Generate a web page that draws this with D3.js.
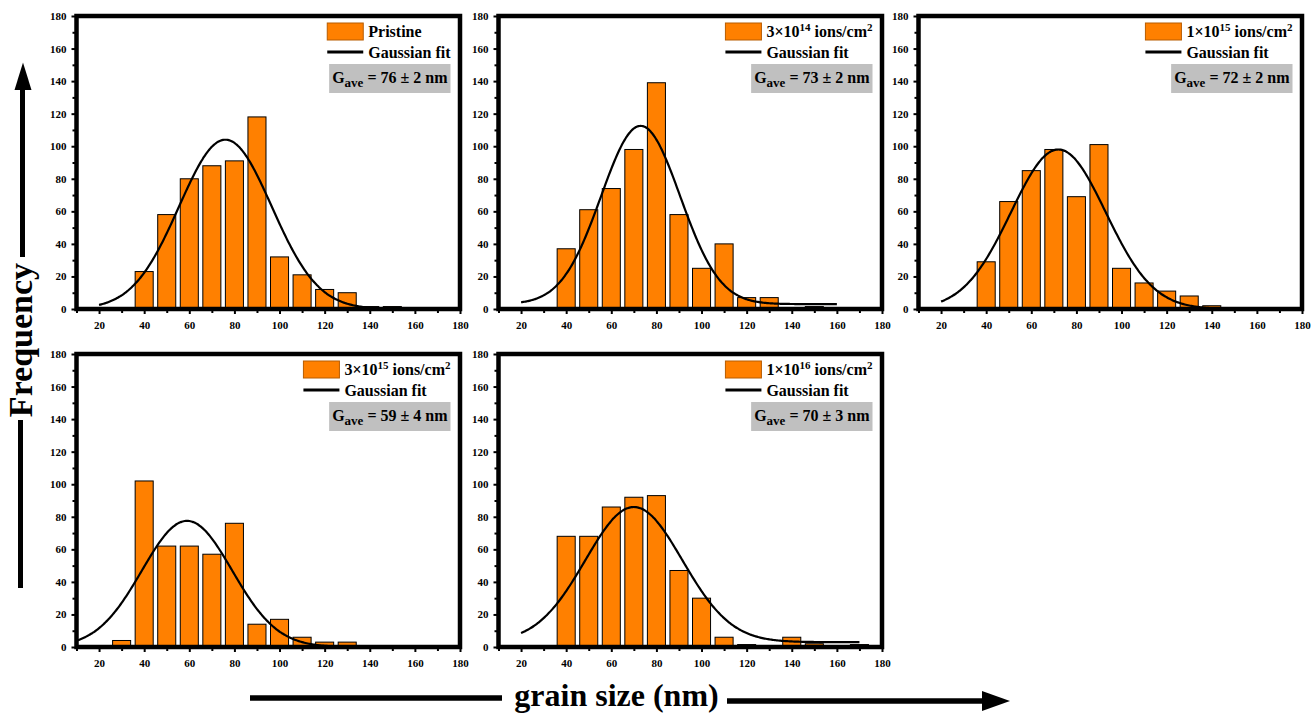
<!DOCTYPE html>
<html>
<head>
<meta charset="utf-8">
<script src="https://cdn.jsdelivr.net/npm/d3@7"></script>
<style>
  html, body { margin: 0; padding: 0; background: #ffffff; }
  svg text { font-family: "Liberation Serif", "Times New Roman", serif; font-weight: bold; fill: #000; }
</style>
</head>
<body>
<svg id="chart" width="1316" height="714"></svg>
<script>
// Histogram bin centres (nm), shared by all five samples
const binCenters = [30, 40, 50, 60, 70, 80, 90, 100, 110, 120, 130, 140, 150, 160, 170];

// Grain counts per bin for each sample
const countsPristine = [0, 23, 58, 80, 88, 91, 118, 32, 21, 12, 10, 1.5, 1.5, 0, 0];
const counts3e14     = [0, 37, 61, 74, 98, 139, 58, 25, 40, 7, 7, 0, 1.5, 0, 0];
const counts1e15     = [0, 29, 66, 85, 98, 69, 101, 25, 16, 11, 8, 2, 0, 0, 0];
const counts3e15     = [4, 102, 62, 62, 57, 76, 14, 17, 6, 3, 3, 0, 0, 0, 0];
const counts1e16     = [0, 68, 68, 86, 92, 93, 47, 30, 6, 1.5, 0, 6, 2, 0, 1.5];
const sampleCounts = [countsPristine, counts3e14, counts1e15, counts3e15, counts1e16];

// Gaussian fit parameters per sample
const fitCenter = [76, 73, 72, 59, 70];
const fitPeak   = [104, 112.5, 98, 77.5, 86];
const fitOffset = [0, 3, 0, 0, 3];
const fitSigma  = [20.5, 17.5, 21, 20, 21.5];
const fitFrom   = [20, 20, 20, 10, 20];
const fitTo     = [160, 160, 160, 160, 170];

// Legend labels
const sampleName   = ["Pristine", null, null, null, null];
const doseMantissa = [null, "3×10", "1×10", "3×10", "1×10"];
const doseExponent = [null, "14", "15", "15", "16"];
const gaveValue    = ["76 ± 2", "73 ± 2", "72 ± 2", "59 ± 4", "70 ± 3"];

// Axis ticks
const xDomain = [10, 180];
const yDomain = [0, 180];
const xMajorTicks = [20, 40, 60, 80, 100, 120, 140, 160, 180];
const xMinorTicks = [10, 30, 50, 70, 90, 110, 130, 150, 170];
const yMajorTicks = [0, 20, 40, 60, 80, 100, 120, 140, 160, 180];
const yMinorTicks = [10, 30, 50, 70, 90, 110, 130, 150, 170];

const BAR_FILL = "#ff8000";
const SERIF = "'Liberation Serif', 'Times New Roman', serif";
const panelW = 383.5, panelH = 293;
const panelOrigins = [
  [76.5, 16], [498.5, 16], [918.5, 16],
  [76.5, 354], [498.5, 354]
];

const svg = d3.select("#chart");

function drawPanel(i) {
  const [x0, y0] = panelOrigins[i];
  const x1 = x0 + panelW, y1 = y0 + panelH;
  const x = d3.scaleLinear().domain(xDomain).range([x0, x1]);
  const y = d3.scaleLinear().domain(yDomain).range([y1, y0]);
  const g = svg.append("g");

  // histogram bars
  const bins = binCenters.map((c, k) => ({ c, v: sampleCounts[i][k] })).filter(d => d.v > 0);
  g.selectAll("rect.bar").data(bins).enter().append("rect")
    .attr("class", "bar")
    .attr("x", d => x(d.c - 4))
    .attr("width", d => x(d.c + 4) - x(d.c - 4))
    .attr("y", d => y(d.v))
    .attr("height", d => y(0) - y(d.v))
    .attr("fill", BAR_FILL)
    .attr("stroke", "#000")
    .attr("stroke-width", 1);

  // Gaussian fit curve
  const gauss = t => fitOffset[i] + (fitPeak[i] - fitOffset[i]) *
    Math.exp(-((t - fitCenter[i]) ** 2) / (2 * fitSigma[i] ** 2));
  const pts = d3.range(fitFrom[i], fitTo[i] + 0.001, 0.5).map(t => [t, gauss(t)]);
  g.append("path")
    .datum(pts)
    .attr("fill", "none")
    .attr("stroke", "#000")
    .attr("stroke-width", 2.2)
    .attr("d", d3.line().x(d => x(d[0])).y(d => y(d[1])).curve(d3.curveBasis));

  // axes: major and minor ticks
  const styleAxis = sel => {
    sel.attr("font-family", SERIF).attr("font-size", 11).attr("font-weight", "bold");
    sel.select(".domain").remove();
    sel.selectAll(".tick line").attr("stroke", "#000").attr("stroke-width", 2);
    sel.selectAll("text").style("font-size", "11px").style("font-family", SERIF);
  };
  g.append("g").attr("transform", `translate(${x0},0)`)
    .call(d3.axisLeft(y).tickValues(yMajorTicks).tickSize(5).tickPadding(5))
    .call(styleAxis);
  g.append("g").attr("transform", `translate(${x0},0)`)
    .call(d3.axisLeft(y).tickValues(yMinorTicks).tickSize(4).tickFormat(""))
    .call(styleAxis);
  const xa = g.append("g").attr("transform", `translate(0,${y1})`)
    .call(d3.axisBottom(x).tickValues(xMajorTicks).tickSize(5).tickPadding(4))
    .call(styleAxis);
  xa.selectAll("text").attr("dy", null).attr("y", 20);
  g.append("g").attr("transform", `translate(0,${y1})`)
    .call(d3.axisBottom(x).tickValues(xMinorTicks).tickSize(4).tickFormat(""))
    .call(styleAxis);

  // frame
  g.append("rect")
    .attr("x", x0).attr("y", y0)
    .attr("width", panelW).attr("height", panelH)
    .attr("fill", "none").attr("stroke", "#000").attr("stroke-width", 4.5);

  // legend
  const boxRight = x1 - 9.5;
  const lg = g.append("g");
  const label = lg.append("text").attr("y", y0 + 21).style("font-size", "16px");
  if (sampleName[i]) {
    label.text(sampleName[i]);
  } else {
    label.append("tspan").text(doseMantissa[i]);
    label.append("tspan").attr("dy", -6).style("font-size", "11px").text(doseExponent[i]);
    label.append("tspan").attr("dy", 6).text(" ions/cm");
    label.append("tspan").attr("dy", -6).style("font-size", "11px").text("2");
  }
  const fitLabel = lg.append("text").attr("y", y0 + 41.5).style("font-size", "16px").text("Gaussian fit");
  const maxW = Math.max(label.node().getComputedTextLength(), fitLabel.node().getComputedTextLength());
  const textX = boxRight - maxW;
  label.attr("x", textX);
  fitLabel.attr("x", textX);
  lg.insert("rect", "text")
    .attr("x", textX - 41).attr("y", y0 + 7)
    .attr("width", 36).attr("height", 17)
    .attr("fill", BAR_FILL).attr("stroke", "#b85c00").attr("stroke-width", 1);
  lg.append("line")
    .attr("x1", textX - 41).attr("x2", textX - 5)
    .attr("y1", y0 + 36).attr("y2", y0 + 36)
    .attr("stroke", "#000").attr("stroke-width", 3);

  // average grain size box
  const box = lg.append("rect").attr("y", y0 + 48).attr("height", 29).attr("fill", "#c0c0c0");
  const gt = lg.append("text").attr("y", y0 + 67).style("font-size", "16px");
  gt.append("tspan").text("G");
  gt.append("tspan").attr("dy", 4).style("font-size", "13px").text("ave");
  gt.append("tspan").attr("dy", -4).text(" = " + gaveValue[i] + " nm");
  const gw = gt.node().getComputedTextLength();
  box.attr("x", boxRight - gw - 6).attr("width", gw + 6);
  gt.attr("x", boxRight - gw - 3);
}

d3.range(5).forEach(drawPanel);

// shared axis titles with arrows
const deco = svg.append("g");
deco.append("line").attr("x1", 22.5).attr("x2", 22.5).attr("y1", 86).attr("y2", 257)
  .attr("stroke", "#000").attr("stroke-width", 5);
deco.append("path").attr("d", "M23,62.5 L14.5,90 L31.5,90 Z").attr("fill", "#000");
deco.append("line").attr("x1", 20.5).attr("x2", 20.5).attr("y1", 420).attr("y2", 588)
  .attr("stroke", "#000").attr("stroke-width", 5);
deco.append("text")
  .attr("transform", "translate(32,340) rotate(-90)")
  .attr("text-anchor", "middle")
  .style("font-size", "34px")
  .text("Frequency");

deco.append("line").attr("x1", 250).attr("x2", 502).attr("y1", 698).attr("y2", 698)
  .attr("stroke", "#000").attr("stroke-width", 5.5);
deco.append("line").attr("x1", 727).attr("x2", 986).attr("y1", 701).attr("y2", 701)
  .attr("stroke", "#000").attr("stroke-width", 5.5);
deco.append("path").attr("d", "M1010,701 L982,691 L982,711 Z").attr("fill", "#000");
deco.append("text")
  .attr("x", 616.5).attr("y", 706)
  .attr("text-anchor", "middle")
  .style("font-size", "32px")
  .text("grain size (nm)");
</script>
</body>
</html>
